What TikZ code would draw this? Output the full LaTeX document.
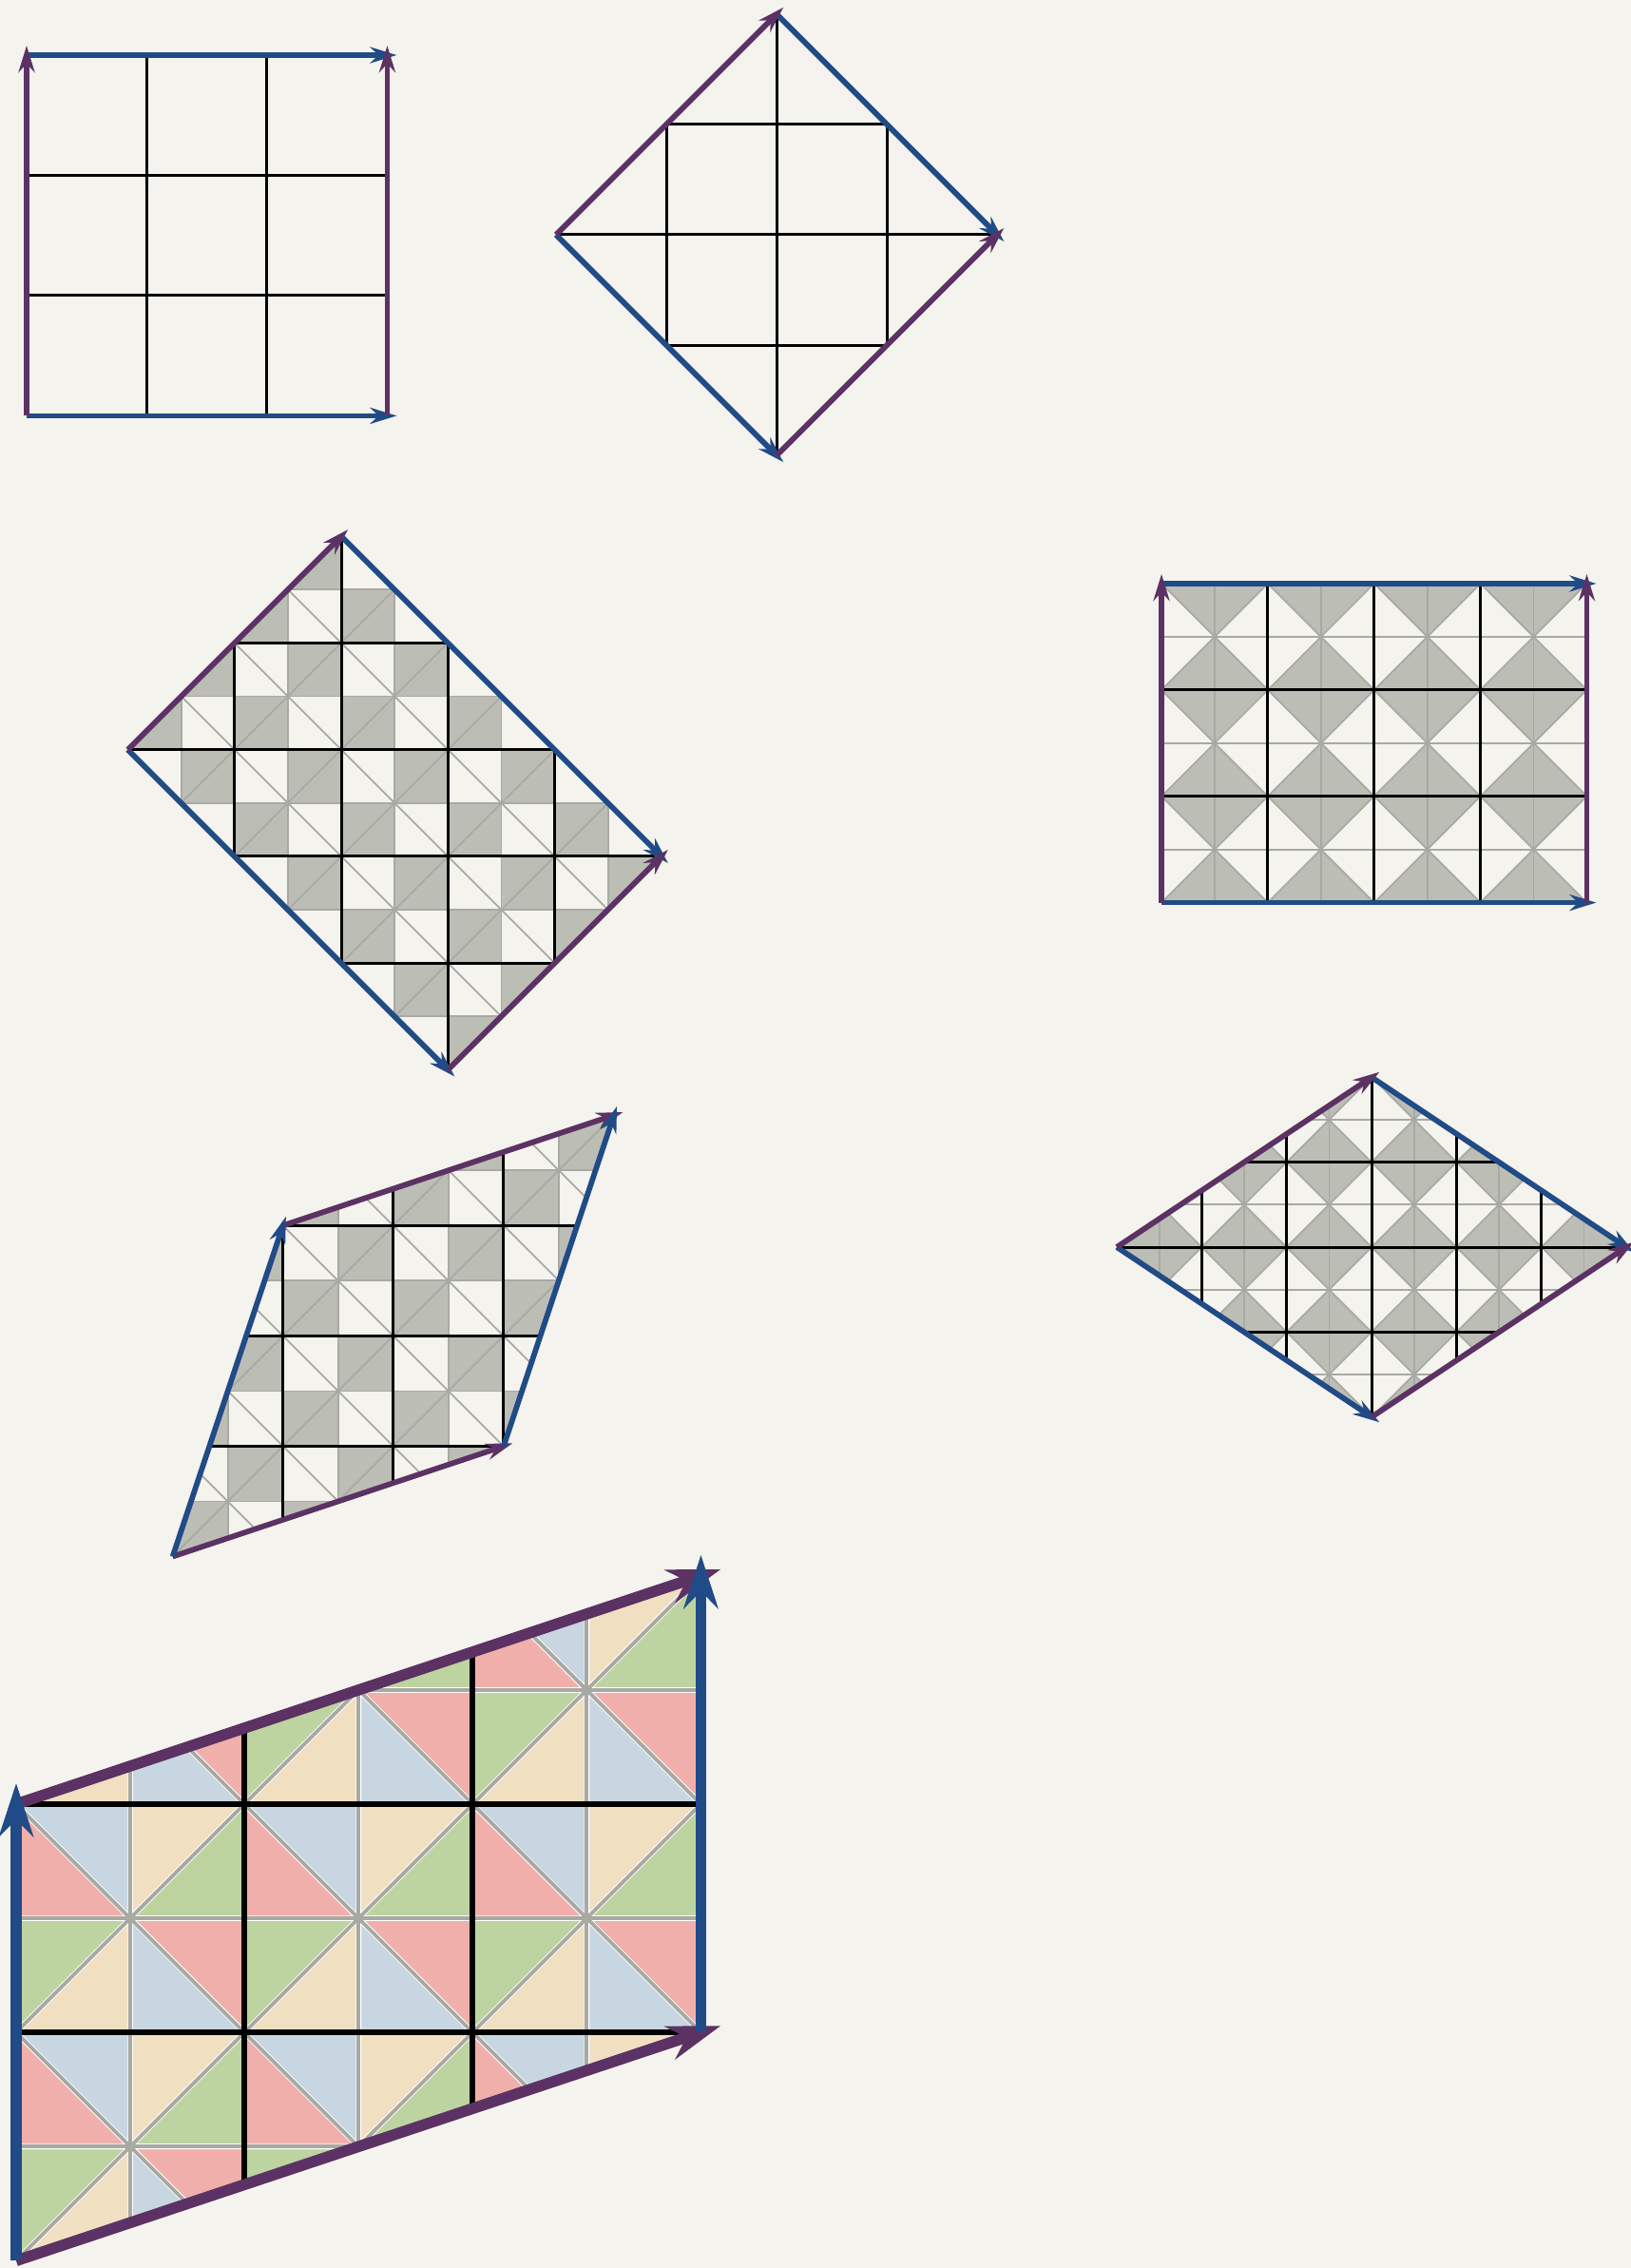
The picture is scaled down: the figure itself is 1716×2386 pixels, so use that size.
\documentclass[tikz,border=0pt]{standalone}
\usepackage{tikz}
\usetikzlibrary{arrows.meta}
\definecolor{bgpaper}{HTML}{F4F3ED}
\definecolor{vecblue}{HTML}{214B87}
\definecolor{vecpurple}{HTML}{5C3264}
\definecolor{shadegray}{HTML}{BCBEB6}
\definecolor{linegray}{HTML}{A9A9A4}
\definecolor{pinktone}{HTML}{F1AFAB}
\definecolor{bluetone}{HTML}{C8D6E2}
\definecolor{tantone}{HTML}{F1DFC2}
\definecolor{greentone}{HTML}{BDD4A0}
\tikzstyle{bluevec} = [draw=vecblue, line width=1.65pt, -{Stealth[length=2.8mm, width=1.7mm, inset=0.9mm]}, shorten >=-1mm]
\tikzstyle{purplevec} = [bluevec, draw=vecpurple]
\tikzstyle{bigbluevec} = [draw=vecblue, line width=3.3pt, -{Stealth[length=5.6mm, width=3.6mm, inset=1.8mm]}, shorten >=-2.2mm]
\tikzstyle{bigpurplevec} = [bigbluevec, draw=vecpurple]
\tikzstyle{cellline} = [draw=black, line width=0.85pt]
\tikzstyle{bigcellline} = [draw=black, line width=1.7pt]
\tikzstyle{halfline} = [draw=linegray, line width=0.5pt]
\tikzstyle{bighalfline} = [draw=linegray, line width=1.1pt]
\tikzstyle{graytri} = [fill=shadegray]
\tikzstyle{colortri} = [draw=white, line width=1.6pt, line join=round]

\begin{document}
\begin{tikzpicture}[x=0.01cm, y=-0.01cm]
\fill[bgpaper] (0,0) rectangle (1716,2386);
\useasboundingbox (0,0) rectangle (1716,2386);

% Square lattice
\begin{scope}[shift={(28,58)}, x=1.264cm, y=-1.264cm]
\coordinate (sqTL) at (0,0);
\coordinate (sqTR) at (3,0);
\coordinate (sqBR) at (3,3);
\coordinate (sqBL) at (0,3);
\foreach \k in {1,2} {
    \draw[cellline] (\k,0) -- (\k,3);
    \draw[cellline] (0,\k) -- (3,\k);
}
\end{scope}
\draw[bluevec] (sqBL) -- (sqBR);
\draw[bluevec] (sqTL) -- (sqTR);
\draw[purplevec] (sqBL) -- (sqTL);
\draw[purplevec] (sqBR) -- (sqTR);

% Diamond cell
\begin{scope}[shift={(585,247)}, x=1.16cm, y=-1.16cm]
\coordinate (dmL) at (0,0);
\coordinate (dmT) at (2,-2);
\coordinate (dmR) at (4,0);
\coordinate (dmB) at (2,2);
\begin{scope}
    \clip (dmL) -- (dmT) -- (dmR) -- (dmB) -- cycle;
    \foreach \k in {1,2,3} \draw[cellline] (\k,-2) -- (\k,2);
    \foreach \k in {-1,0,1} \draw[cellline] (0,\k) -- (4,\k);
\end{scope}
\end{scope}
\draw[bluevec] (dmT) -- (dmR);
\draw[bluevec] (dmL) -- (dmB);
\draw[purplevec] (dmL) -- (dmT);
\draw[purplevec] (dmB) -- (dmR);

% Tilted rectangle, checkered
\begin{scope}[shift={(134.5,788.7)}, x=1.122cm, y=-1.122cm]
\coordinate (rcL) at (0,0);
\coordinate (rcT) at (2,-2);
\coordinate (rcR) at (5,1);
\coordinate (rcB) at (3,3);
\begin{scope}
    \clip (rcL) -- (rcT) -- (rcR) -- (rcB) -- cycle;
    \foreach \i in {0,...,9} \foreach \j in {-4,...,5} {
        \ifodd\numexpr\i+\j\relax \fill[graytri] ({\i/2},{\j/2}) rectangle ++(0.5,0.5); \fi
    }
    \foreach \k in {0,...,10} \draw[halfline] ({\k/2},-2) -- ({\k/2},3);
    \foreach \k in {-4,...,6} \draw[halfline] (0,{\k/2}) -- (5,{\k/2});
    \foreach \k in {-3,...,8} {
        \draw[halfline] (\k-4,-4) -- (\k+5,5);
        \draw[halfline] (\k+4,-4) -- (\k-5,5);
    }
    \foreach \k in {1,...,4} \draw[cellline] (\k,-2) -- (\k,3);
    \foreach \k in {-1,...,2} \draw[cellline] (0,\k) -- (5,\k);
\end{scope}
\end{scope}
\draw[bluevec] (rcT) -- (rcR);
\draw[bluevec] (rcL) -- (rcB);
\draw[purplevec] (rcL) -- (rcT);
\draw[purplevec] (rcB) -- (rcR);

% Rectangle, hourglass cells
\begin{scope}[shift={(1222,614)}, x=1.118cm, y=-1.118cm]
\coordinate (hgTL) at (0,0);
\coordinate (hgTR) at (4,0);
\coordinate (hgBR) at (4,3);
\coordinate (hgBL) at (0,3);
\begin{scope}
    \clip (hgTL) rectangle (hgBR);
    \foreach \a in {0,...,3} \foreach \b in {0,1,2} {
        \fill[graytri] (\a,\b) -- ++(1,0) -- ++(-0.5,0.5) -- cycle;
        \fill[graytri] (\a,\b+1) -- ++(1,0) -- ++(-0.5,-0.5) -- cycle;
    }
    \foreach \k in {0,...,8} \draw[halfline] ({\k/2},0) -- ({\k/2},3);
    \foreach \k in {0,...,6} \draw[halfline] (0,{\k/2}) -- (4,{\k/2});
    \foreach \k in {-3,...,7} {
        \draw[halfline] (\k-4,-4) -- (\k+5,5);
        \draw[halfline] (\k+4,-4) -- (\k-5,5);
    }
    \foreach \k in {1,2,3} \draw[cellline] (\k,0) -- (\k,3);
    \foreach \k in {1,2} \draw[cellline] (0,\k) -- (4,\k);
\end{scope}
\end{scope}
\draw[bluevec] (hgBL) -- (hgBR);
\draw[bluevec] (hgTL) -- (hgTR);
\draw[purplevec] (hgBL) -- (hgTL);
\draw[purplevec] (hgBR) -- (hgTR);

% Rhombus, hourglass cells
\begin{scope}[shift={(1175,1312)}, x=0.893cm, y=-0.893cm]
\coordinate (rhL) at (0,0);
\coordinate (rhT) at (3,-2);
\coordinate (rhR) at (6,0);
\coordinate (rhB) at (3,2);
\begin{scope}
    \clip (rhL) -- (rhT) -- (rhR) -- (rhB) -- cycle;
    \foreach \a in {0,...,5} \foreach \b in {-2,...,1} {
        \fill[graytri] (\a,\b) -- ++(1,0) -- ++(-0.5,0.5) -- cycle;
        \fill[graytri] (\a,\b+1) -- ++(1,0) -- ++(-0.5,-0.5) -- cycle;
    }
    \foreach \k in {0,...,12} \draw[halfline] ({\k/2},-2) -- ({\k/2},2);
    \foreach \k in {-4,...,4} \draw[halfline] (0,{\k/2}) -- (6,{\k/2});
    \foreach \k in {-2,...,8} {
        \draw[halfline] (\k-4,-4) -- (\k+5,5);
        \draw[halfline] (\k+4,-4) -- (\k-5,5);
    }
    \foreach \k in {1,...,5} \draw[cellline] (\k,-2) -- (\k,2);
    \foreach \k in {-1,0,1} \draw[cellline] (0,\k) -- (6,\k);
\end{scope}
\end{scope}
\draw[bluevec] (rhT) -- (rhR);
\draw[bluevec] (rhL) -- (rhB);
\draw[purplevec] (rhL) -- (rhT);
\draw[purplevec] (rhB) -- (rhR);

% Slanted cell, checkered
\begin{scope}[shift={(297.7,1289.3)}, x=1.16cm, y=-1.16cm]
\coordinate (pgTL) at (0,0);
\coordinate (pgTR) at (3,-1);
\coordinate (pgBR) at (2,2);
\coordinate (pgBL) at (-1,3);
\begin{scope}
    \clip (pgBL) -- (pgTL) -- (pgTR) -- (pgBR) -- cycle;
    \foreach \i in {-2,...,5} \foreach \j in {-2,...,5} {
        \ifodd\numexpr\i+\j\relax \fill[graytri] ({\i/2},{\j/2}) rectangle ++(0.5,0.5); \fi
    }
    \foreach \k in {-2,...,6} \draw[halfline] ({\k/2},-1) -- ({\k/2},3);
    \foreach \k in {-2,...,6} \draw[halfline] (-1,{\k/2}) -- (3,{\k/2});
    \foreach \k in {-4,...,6} {
        \draw[halfline] (\k-4,-4) -- (\k+5,5);
        \draw[halfline] (\k+4,-4) -- (\k-5,5);
    }
    \foreach \k in {0,1,2} {
        \draw[cellline] (\k,-1) -- (\k,3);
        \draw[cellline] (-1,\k) -- (3,\k);
    }
\end{scope}
\end{scope}
\draw[purplevec] (pgTL) -- (pgTR);
\draw[purplevec] (pgBL) -- (pgBR);
\draw[bluevec] (pgBL) -- (pgTL);
\draw[bluevec] (pgBR) -- (pgTR);

% Big slanted cell, coloured triangles
\begin{scope}[shift={(17,1898)}, x=2.4cm, y=-2.4cm]
\coordinate (bgTL) at (0,0);
\coordinate (bgTR) at (3,-1);
\coordinate (bgBR) at (3,1);
\coordinate (bgBL) at (0,2);
\begin{scope}
    \clip (bgBL) -- (bgTL) -- (bgTR) -- (bgBR) -- cycle;
    \foreach \a in {0,1,2} \foreach \b in {-1,0,1} {
        \begin{scope}[shift={(\a,\b)}]
            \filldraw[colortri, fill=tantone] (0.5,0.5) -- (0.5,0) -- (1,0) -- cycle;
            \filldraw[colortri, fill=greentone] (0.5,0.5) -- (1,0) -- (1,0.5) -- cycle;
            \filldraw[colortri, fill=pinktone] (0.5,0.5) -- (1,0.5) -- (1,1) -- cycle;
            \filldraw[colortri, fill=bluetone] (0.5,0.5) -- (1,1) -- (0.5,1) -- cycle;
            \filldraw[colortri, fill=tantone] (0.5,0.5) -- (0.5,1) -- (0,1) -- cycle;
            \filldraw[colortri, fill=greentone] (0.5,0.5) -- (0,1) -- (0,0.5) -- cycle;
            \filldraw[colortri, fill=pinktone] (0.5,0.5) -- (0,0.5) -- (0,0) -- cycle;
            \filldraw[colortri, fill=bluetone] (0.5,0.5) -- (0,0) -- (0.5,0) -- cycle;
        \end{scope}
    }
    \foreach \k in {0,...,6} \draw[bighalfline] ({\k/2},-1) -- ({\k/2},2);
    \foreach \k in {-2,...,4} \draw[bighalfline] (0,{\k/2}) -- (3,{\k/2});
    \foreach \k in {-2,...,5} {
        \draw[bighalfline] (\k-3,-3) -- (\k+4,4);
        \draw[bighalfline] (\k+3,-3) -- (\k-4,4);
    }
    \foreach \k in {1,2} \draw[bigcellline] (\k,-1) -- (\k,2);
    \foreach \k in {0,1} \draw[bigcellline] (0,\k) -- (3,\k);
\end{scope}
\end{scope}
\draw[bigpurplevec] (bgTL) -- (bgTR);
\draw[bigpurplevec] (bgBL) -- (bgBR);
\draw[bigbluevec] (bgBL) -- (bgTL);
\draw[bigbluevec] (bgBR) -- (bgTR);

\end{tikzpicture}
\end{document}
